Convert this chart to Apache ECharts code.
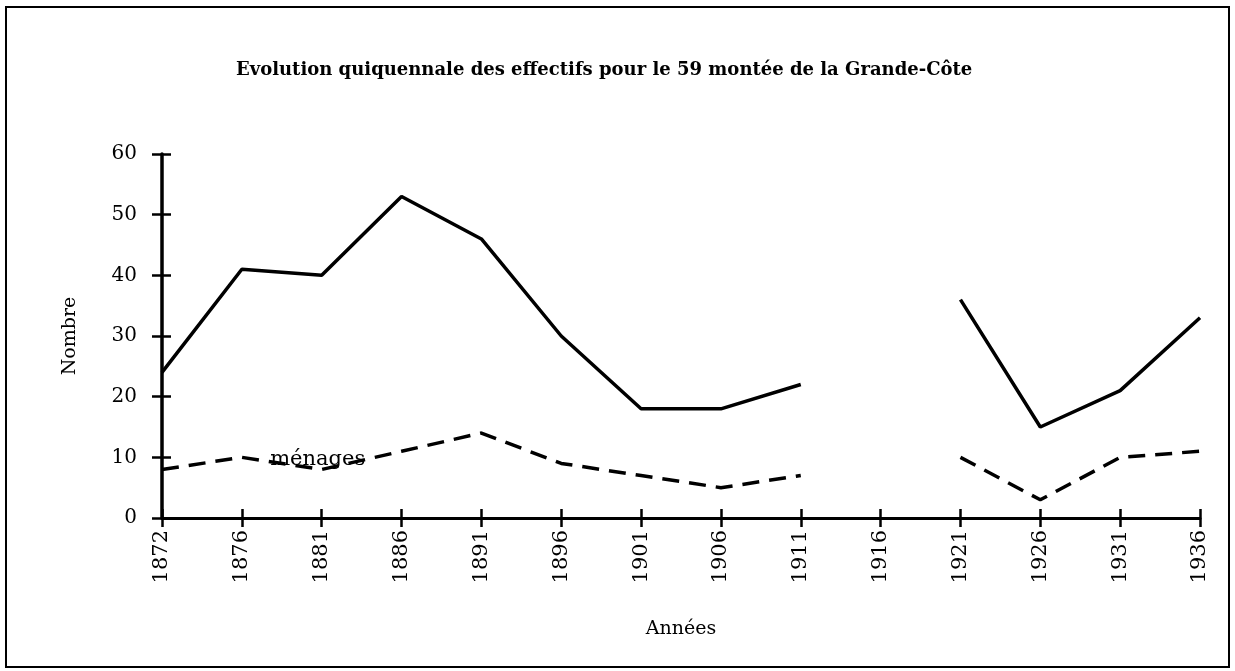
<!DOCTYPE html>
<html>
<head>
<meta charset="utf-8">
<script src="https://cdn.jsdelivr.net/npm/echarts@6/dist/echarts.min.js"></script>
<style>
  html, body { margin: 0; padding: 0; background: #fff; }
  #chart { width: 1235px; height: 671px; }
</style>
</head>
<body>
<div id="chart"></div>
<script>
// Census years (1916 has no census, hence the gap in both lines)
const years = ['1872', '1876', '1881', '1886', '1891', '1896', '1901', '1906', '1911', '1916', '1921', '1926', '1931', '1936'];
// Number of inhabitants
const habitants = [24, 41, 40, 53, 46, 30, 18, 18, 22, null, 36, 15, 21, 33];
// Number of households
const menages = [8, 10, 8, 11, 14, 9, 7, 5, 7, null, 10, 3, 10, 11];
// Where the households line is named
const menagesLabelYear = '1881';

const titleText = 'Evolution quiquennale des effectifs pour le 59 montée de la Grande-Côte';
const serif = '"DejaVu Serif", "Liberation Serif", serif';

const chart = echarts.init(document.getElementById('chart'), null, { renderer: 'canvas' });

chart.setOption({
  backgroundColor: '#fff',
  animation: false,
  title: {
    text: titleText,
    left: 231,
    top: 56,
    textStyle: { fontFamily: serif, fontWeight: 'bold', fontSize: 18, color: '#000' }
  },
  graphic: [{
    type: 'rect',
    shape: { x: 6, y: 7, width: 1223, height: 660 },
    style: { fill: 'none', stroke: '#000', lineWidth: 2 },
    silent: true
  }],
  grid: { left: 162, right: 35, top: 154, bottom: 153 },
  xAxis: [{
    type: 'category',
    data: years,
    boundaryGap: false,
    name: 'Années',
    nameLocation: 'middle',
    nameGap: 102,
    nameTextStyle: { fontFamily: serif, fontSize: 19, color: '#000' },
    axisLine: { lineStyle: { color: '#000', width: 3 } },
    axisTick: { inside: false, length: 9, lineStyle: { color: '#000', width: 2.5 } },
    axisLabel: { rotate: 90, margin: 12, fontFamily: serif, fontSize: 21, color: '#000', interval: 0 },
    splitLine: { show: false }
  }, {
    type: 'category',
    data: years,
    boundaryGap: false,
    position: 'bottom',
    axisLine: { show: false },
    axisTick: { inside: true, length: 9, lineStyle: { color: '#000', width: 2.5 } },
    axisLabel: { show: false },
    splitLine: { show: false }
  }],
  yAxis: [{
    type: 'value',
    min: 0,
    max: 60,
    interval: 10,
    name: 'Nombre',
    nameLocation: 'middle',
    nameGap: 82,
    nameRotate: 90,
    nameTextStyle: { fontFamily: serif, fontSize: 19, color: '#000' },
    axisLine: { show: true, lineStyle: { color: '#000', width: 3.5 } },
    axisTick: { show: true, inside: false, length: 10, lineStyle: { color: '#000', width: 2.5 } },
    axisLabel: { margin: 25, fontFamily: serif, fontSize: 20, color: '#000' },
    splitLine: { show: false }
  }, {
    type: 'value',
    min: 0,
    max: 60,
    interval: 10,
    position: 'left',
    axisLine: { show: false },
    axisTick: { show: true, inside: true, length: 9, lineStyle: { color: '#000', width: 2.5 } },
    axisLabel: { show: false },
    splitLine: { show: false }
  }],
  series: [{
    name: 'habitants',
    type: 'line',
    data: habitants,
    showSymbol: false,
    connectNulls: false,
    lineStyle: { color: '#000', width: 3.5 },
    z: 3
  }, {
    name: 'ménages',
    type: 'line',
    data: menages,
    showSymbol: false,
    connectNulls: false,
    lineStyle: { color: '#000', width: 3.5, type: [17, 10] },
    z: 3,
    // the series name written along the line, at its 1881 point
    markPoint: {
      silent: true,
      symbol: 'rect',
      symbolSize: 1,
      itemStyle: { color: '#fff', opacity: 0 },
      label: {
        show: true,
        formatter: 'ménages',
        position: 'top',
        distance: 0,
        offset: [-4, 1],
        fontFamily: serif,
        fontSize: 21,
        color: '#000',
        opacity: 1
      },
      data: [{ coord: [menagesLabelYear, menages[years.indexOf(menagesLabelYear)]] }]
    }
  }]
});
</script>
</body>
</html>
